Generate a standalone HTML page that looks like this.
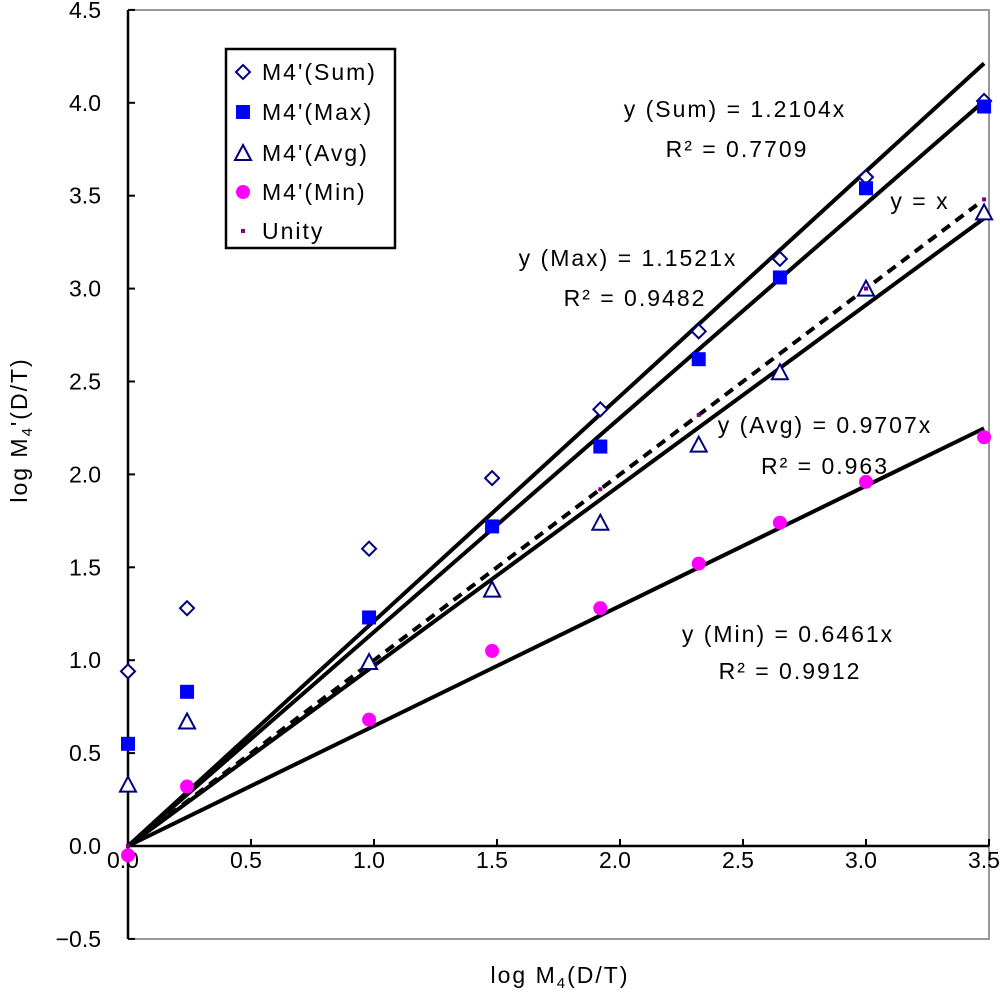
<!DOCTYPE html>
<html><head><meta charset="utf-8"><style>
body{margin:0;background:#fff}
svg{display:block;font-family:"Liberation Sans",sans-serif}
.w{letter-spacing:2px}
</style></head><body>
<svg id="c" width="1000" height="1000" viewBox="0 0 1000 1000">
<g id="g"></g>
</svg>
<script>
const xs=[0,0.24,0.98,1.48,1.92,2.32,2.65,3.0,3.48];
const sumV=[0.94,1.28,1.60,1.98,2.35,2.77,3.16,3.60,4.01];
const maxV=[0.55,0.83,1.23,1.72,2.15,2.62,3.06,3.54,3.98];
const avgV=[0.33,0.67,0.99,1.38,1.74,2.16,2.55,3.00,3.41];
const minV=[-0.05,0.32,0.68,1.05,1.28,1.52,1.74,1.96,2.20];
const unityX=[0,1.92,2.32,3.0,3.48];
const slopes=[1.2104,1.1521,0.9707,0.6461];
const xTicks=["0.0","0.5","1.0","1.5","2.0","2.5","3.0","3.5"];
const yTicks=["-0.5","0.0","0.5","1.0","1.5","2.0","2.5","3.0","3.5","4.0","4.5"];
const X=v=>128+v*246, Y=v=>846-v*185.8;
const NS="http://www.w3.org/2000/svg", g=document.getElementById('g');
function el(t,a,p){const e=document.createElementNS(NS,t);for(const k in a)e.setAttribute(k,a[k]);(p||g).appendChild(e);return e;}
function txt(s,x,y,anchor,name,size,cls){const t=el('text',{x:x,y:y,'text-anchor':anchor||'middle','font-size':size||21,fill:'#000'});t.textContent=s;
if(cls)t.setAttribute('class',cls);


return t;}
let f=el('path',{d:`M128 10H989V939H128`,fill:'none',stroke:'#999','stroke-width':2});


let ya=el('line',{x1:128,y1:10,x2:128,y2:939,stroke:'#000','stroke-width':2.5});


let xa=el('line',{x1:128,y1:846,x2:989,y2:846,stroke:'#000','stroke-width':2.5});


xTicks.forEach(s=>{const v=+s;el('line',{x1:X(v),y1:846,x2:X(v),y2:839,stroke:'#000','stroke-width':2});
txt(s,X(v)-5,868,'middle','x-tick-label',23);});
yTicks.forEach(s=>{const v=+s;el('line',{x1:128,y1:Y(v),x2:135,y2:Y(v),stroke:'#000','stroke-width':2});
txt(s.replace('-','\u2212'),101,Y(v)+8,'end','y-tick-label',23);});
slopes.forEach((m,i)=>{const l=el('line',{x1:X(0),y1:Y(0),x2:X(3.48),y2:Y(3.48*m),stroke:'#000','stroke-width':4});

});
let u=el('line',{x1:X(0),y1:Y(0),x2:X(3.45),y2:Y(3.45),stroke:'#000','stroke-width':4,'stroke-dasharray':'10 7'});


function diamond(x,y,p){return el('path',{d:`M${x} ${y-7}L${x+7} ${y}L${x} ${y+7}L${x-7} ${y}Z`,fill:'#fff',stroke:'#00007f','stroke-width':2},p);}
function square(x,y,p){return el('rect',{x:x-7,y:y-7,width:14,height:14,fill:'#0000ff'},p);}
function tri(x,y,p){return el('path',{d:`M${x} ${y-8}L${x+8} ${y+7}L${x-8} ${y+7}Z`,fill:'#fff',stroke:'#00007f','stroke-width':2},p);}
function circ(x,y,p){return el('circle',{cx:x,cy:y,r:7,fill:'#ff00ff'},p);}
function dot(x,y,p){return el('rect',{x:x-2,y:y-2,width:4,height:4,fill:'#7f007f'},p);}
xs.forEach((x,i)=>{let m;
m=diamond(X(x),Y(sumV[i]));
m=square(X(x),Y(maxV[i]));
m=tri(X(x),Y(avgV[i]));
m=circ(X(x),Y(minV[i]));});
unityX.forEach(x=>{const m=dot(X(x),Y(x));});
txt('y (Sum) = 1.2104x',735,117,'middle','sum-equation',23,'w');
txt('R² = 0.7709',737,157,'middle','sum-r2',23,'w');
txt('y (Max) = 1.1521x',628,266,'middle','max-equation',23,'w');
txt('R² = 0.9482',635,306,'middle','max-r2',23,'w');
txt('y = x',920,209,'middle','unity-label',23,'w');
txt('y (Avg) = 0.9707x',825,433,'middle','avg-equation',23,'w');
txt('R² = 0.963',825,474,'middle','avg-r2',23,'w');
txt('y (Min) = 0.6461x',788,642,'middle','min-equation',23,'w');
txt('R² = 0.9912',790,679,'middle','min-r2',23,'w');
const lg=el('g',{});


el('rect',{x:226,y:49,width:169,height:199,fill:'#fff',stroke:'#000','stroke-width':2.5},lg);
const names=["M4'(Sum)","M4'(Max)","M4'(Avg)","M4'(Min)","Unity"],fns=[diamond,square,tri,circ,dot],ly=[72,112,153,192,231];
names.forEach((n,i)=>{fns[i](243,ly[i],lg);const t=txt(n,262,ly[i]+8,'start','legend-entry',23,'w');lg.appendChild(t);});
const xt=el('text',{x:560,y:983,'text-anchor':'middle','font-size':23,'class':'w'});xt.innerHTML='log M<tspan font-size="15" dy="5">4</tspan><tspan dy="-5">(D/T)</tspan>';


const yt=el('text',{x:0,y:0,'text-anchor':'middle','font-size':23,'class':'w',transform:'translate(27,430) rotate(-90)'});yt.innerHTML='log M<tspan font-size="15" dy="5">4</tspan><tspan dy="-5">\'(D/T)</tspan>';


</script>
</body></html>
